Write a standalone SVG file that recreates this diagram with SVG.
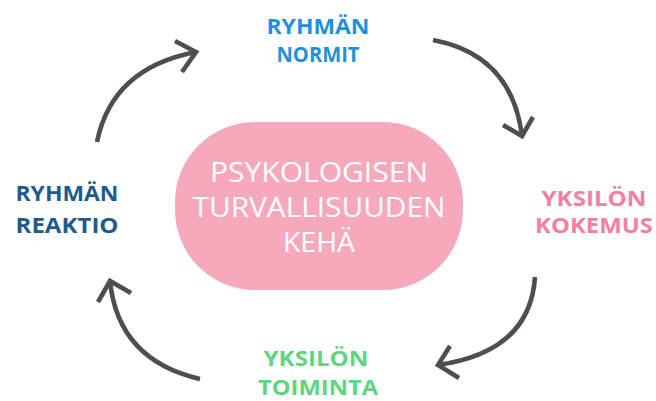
<svg xmlns="http://www.w3.org/2000/svg" width="656" height="401" viewBox="0 0 656 401">
<style>
.arr{fill:none;stroke:#4b4e53;stroke-width:4.6;stroke-linecap:butt;stroke-linejoin:miter}
.lbl{font-family:"Open Sans","Liberation Sans",sans-serif;font-weight:700;font-size:21.5px;text-anchor:middle}
.ctr{font-family:"Open Sans","Liberation Sans",sans-serif;font-weight:400;font-size:28px;fill:#ffffff;text-anchor:middle}
</style>
<rect width="656" height="401" fill="#ffffff"/>
<g id="center">
<rect x="175" y="122" width="288" height="168" rx="80" ry="80" fill="#f6a9bb"/>
<text class="ctr" x="319" y="182" textLength="218" lengthAdjust="spacingAndGlyphs">PSYKOLOGISEN</text>
<text class="ctr" x="319" y="217" textLength="253" lengthAdjust="spacingAndGlyphs">TURVALLISUUDEN</text>
<text class="ctr" x="319" y="252" textLength="72" lengthAdjust="spacingAndGlyphs">KEHÄ</text>
</g>
<g id="ryhman-normit">
<text class="lbl" x="318" y="34" fill="#1f8fe0" textLength="103" lengthAdjust="spacingAndGlyphs">RYHMÄN</text>
<text class="lbl" x="318" y="62" fill="#1f8fe0" textLength="83" lengthAdjust="spacingAndGlyphs">NORMIT</text>
</g>
<g id="yksilon-kokemus">
<text class="lbl" x="594" y="206" fill="#f2809f" textLength="105" lengthAdjust="spacingAndGlyphs">YKSILÖN</text>
<text class="lbl" x="594" y="233" fill="#f2809f" textLength="118" lengthAdjust="spacingAndGlyphs">KOKEMUS</text>
</g>
<g id="yksilon-toiminta">
<text class="lbl" x="316" y="366" fill="#5fd580" textLength="105" lengthAdjust="spacingAndGlyphs">YKSILÖN</text>
<text class="lbl" x="318" y="395" fill="#5fd580" textLength="120" lengthAdjust="spacingAndGlyphs">TOIMINTA</text>
</g>
<g id="ryhman-reaktio">
<text class="lbl" x="67" y="201" fill="#1d5b8c" textLength="103" lengthAdjust="spacingAndGlyphs">RYHMÄN</text>
<text class="lbl" x="67" y="233" fill="#1d5b8c" textLength="103" lengthAdjust="spacingAndGlyphs">REAKTIO</text>
</g>
<g id="connectors">
<path class="arr" d="M97,142 Q112,68 196,52"/>
<polyline class="arr" points="175,41 196,52 182,72"/>
<path class="arr" d="M433,40 Q512,55 522,136"/>
<polyline class="arr" points="503,125 522,136 533,117"/>
<path class="arr" d="M535,277 Q530,352 438,365"/>
<polyline class="arr" points="450,346 438,365 459,378"/>
<path class="arr" d="M200,379 Q118,360 110,281"/>
<polyline class="arr" points="98,302 110,281 131,293"/>
</g>
</svg>
